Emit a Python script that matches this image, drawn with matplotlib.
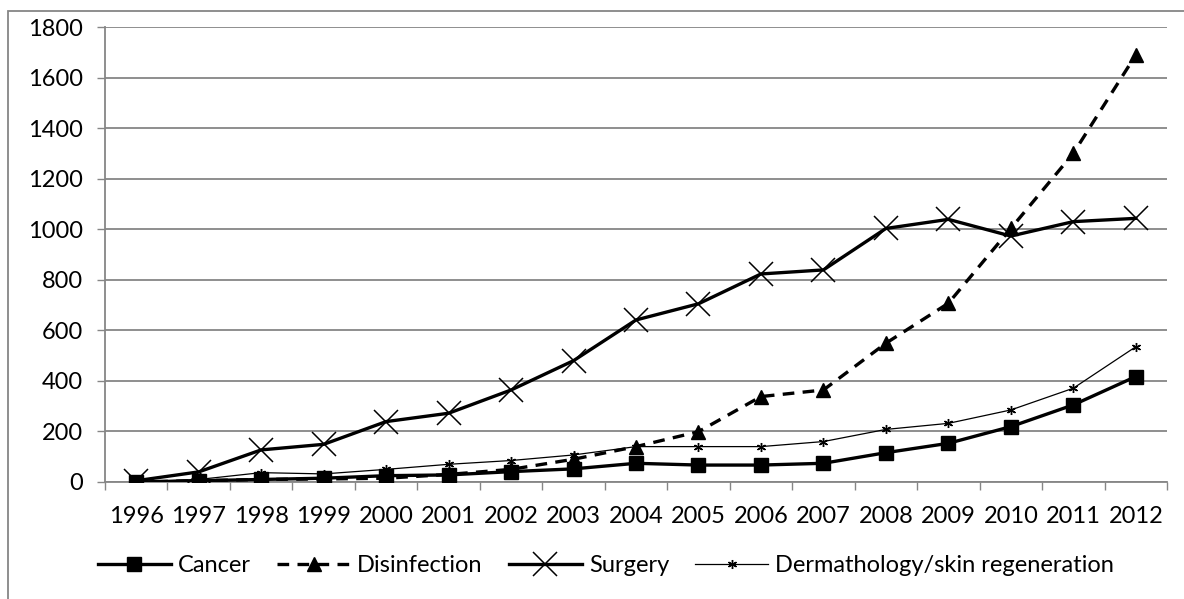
import matplotlib
matplotlib.use("Agg")
import matplotlib.pyplot as plt
from matplotlib.patches import Rectangle
import numpy as np

plt.rcParams["font.family"] = ["Lato", "DejaVu Sans"]

YEARS = [str(y) for y in range(1996, 2013)]
CANCER = [0, 5, 10, 15, 25, 28, 41, 52, 74, 67, 67, 74, 116, 153, 219, 305, 417]
DISINFECTION = [0, 5, 10, 12, 15, 30, 50, 90, 140, 199, 338, 364, 549, 707, 1003, 1300, 1689]
SURGERY = [5, 40, 127, 149, 239, 272, 364, 480, 641, 705, 823, 839, 1003, 1039, 973, 1030, 1043]
DERMATOLOGY = [0, 10, 37, 32, 50, 70, 85, 107, 140, 140, 140, 160, 208, 232, 285, 371, 535]

GRID_GRAY = "#868686"
FONT_SIZE = 17

W, H = 1184, 599
fig = plt.figure(figsize=(W / 100, H / 100), dpi=100)
ax = fig.add_axes([105 / W, 1 - 482 / H, (1167 - 105) / W, (482 - 27) / H])

x = np.arange(len(YEARS))
ax.plot(x, CANCER, color="black", lw=2.4, marker="s", ms=10.5,
        label="Cancer", zorder=4)
ax.plot(x, DISINFECTION, color="black", lw=2.4, ls=(0, (3.5, 2.5)), marker="^", ms=10.5,
        label="Disinfection", zorder=4)
ax.plot(x, SURGERY, color="black", lw=2.4, marker="x", ms=17, mew=1.1,
        label="Surgery", zorder=4)
ax.plot(x, DERMATOLOGY, color="black", lw=0.9, marker=(6, 2, 0), ms=6.5, mew=1.0,
        label="Dermathology/skin regeneration", zorder=4)

ax.set_xlim(-0.5, len(YEARS) - 0.5)
ax.set_ylim(0, 1800)
ax.set_yticks(range(0, 1801, 200))
ax.set_xticks(x)
ax.set_xticklabels(YEARS)
ax.set_xticks(np.arange(-0.5, len(YEARS), 1.0), minor=True)
ax.tick_params(axis="x", which="major", length=0, pad=17, labelsize=FONT_SIZE)
ax.tick_params(axis="x", which="minor", length=6, width=1.0, color=GRID_GRAY, direction="out")
ax.tick_params(axis="y", length=6, width=1.0, color=GRID_GRAY, pad=10, labelsize=FONT_SIZE)

ax.grid(axis="y", color=GRID_GRAY, lw=1.3)
ax.set_axisbelow(True)
for side in ["top", "right"]:
    ax.spines[side].set_visible(False)
for side in ["left", "bottom"]:
    ax.spines[side].set_color(GRID_GRAY)
    ax.spines[side].set_linewidth(1.3)

fig.legend(loc="center", bbox_to_anchor=(606 / W, 1 - 566 / H), ncol=4, frameon=False,
           fontsize=FONT_SIZE, handlelength=3.1, handletextpad=0.3, columnspacing=1.1)

fig.patches.append(Rectangle((8 / W, -0.2), 1.5, 1 - 11 / H + 0.2, transform=fig.transFigure,
                             fill=False, edgecolor=GRID_GRAY, lw=1.3))

fig.savefig("out.png", dpi=100)
